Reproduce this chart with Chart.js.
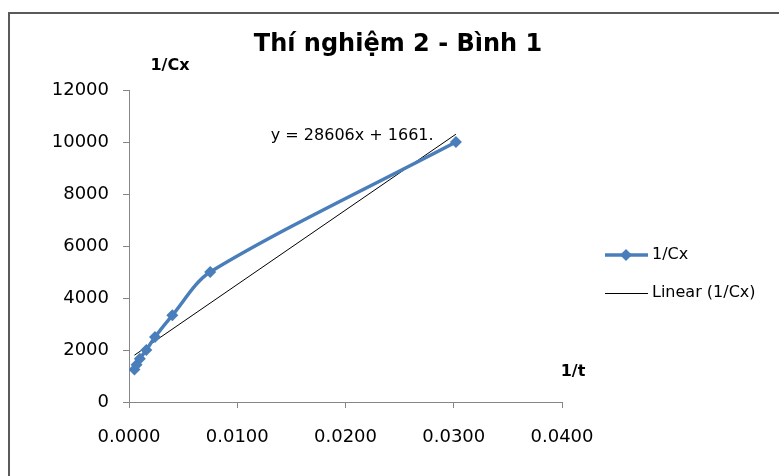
<!DOCTYPE html>
<html>
<head>
<meta charset="utf-8">
<script src="https://cdn.jsdelivr.net/npm/chart.js@4/dist/chart.umd.min.js"></script>
<style>
  html, body { margin: 0; padding: 0; background: #fff; overflow: hidden; }
  #wrap { position: relative; width: 779px; height: 476px; overflow: hidden; }
  #khung { position: absolute; left: 8px; top: 12px; width: 800px; height: 500px;
           border-left: 2px solid #5a5a5a; border-top: 2px solid #5a5a5a; }
  canvas { position: absolute; left: 0; top: 0; }
</style>
</head>
<body>
<div id="wrap">
  <div id="khung"></div>
  <canvas id="bieuDo" width="779" height="476"></canvas>
</div>
<script>
// Dữ liệu
const motTrenT = [0.0005, 0.0007, 0.0010, 0.0016, 0.0024, 0.0040, 0.0075, 0.0302];
const motTrenCx = [1250, 1429, 1667, 2000, 2500, 3333, 5000, 10000];

// Đường xu hướng (hai đầu mút)
const xuHuongX = [0.0005, 0.0302];
const xuHuongY = [1800, 10300];

const nhanX = [0, 0.01, 0.02, 0.03, 0.04];
const nhanY = [0, 2000, 4000, 6000, 8000, 10000, 12000];

const tieuDe = "Thí nghiệm 2 - Bình 1";
const tenTrucY = "1/Cx";
const tenTrucX = "1/t";
const phuongTrinh = "y = 28606x + 1661.";
const tenChuGiai = ["1/Cx", "Linear (1/Cx)"];

const mauXanh = "#4a7ebb";
const mauTruc = "#868686";
const phongChu = "'DejaVu Sans', sans-serif";

// Vẽ tiêu đề, tên trục, phương trình và chú giải
const chuThich = {
    id: "chuThich",
    afterDraw(chart) {
        const ctx = chart.ctx;
        const sx = chart.scales.x, sy = chart.scales.y;
        ctx.save();
        ctx.fillStyle = "#000";
        ctx.textBaseline = "middle";

        ctx.font = "bold 24px " + phongChu;
        ctx.textAlign = "center";
        ctx.fillText(tieuDe, 398, 45);

        ctx.font = "bold 16px " + phongChu;
        ctx.fillText(tenTrucY, 170, 66);
        ctx.fillText(tenTrucX, 573, 372);

        ctx.font = "16px " + phongChu;
        ctx.textAlign = "left";
        ctx.fillText(phuongTrinh, sx.getPixelForValue(0.0131), sy.getPixelForValue(10250));

        // chú giải
        const x0 = 605, x1 = 648;
        const yA = 255, yB = 293;
        ctx.strokeStyle = mauXanh;
        ctx.lineWidth = 3.5;
        ctx.beginPath(); ctx.moveTo(x0, yA); ctx.lineTo(x1, yA); ctx.stroke();
        ctx.fillStyle = mauXanh;
        ctx.beginPath();
        ctx.moveTo(626, yA - 6); ctx.lineTo(632, yA); ctx.lineTo(626, yA + 6); ctx.lineTo(620, yA);
        ctx.closePath(); ctx.fill();
        ctx.strokeStyle = "#000";
        ctx.lineWidth = 1;
        ctx.beginPath(); ctx.moveTo(x0, yB + 0.5); ctx.lineTo(x1, yB + 0.5); ctx.stroke();

        ctx.fillStyle = "#000";
        ctx.font = "16px " + phongChu;
        ctx.fillText(tenChuGiai[0], 652, yA);
        ctx.fillText(tenChuGiai[1], 652, yB);
        ctx.restore();
    }
};

new Chart(document.getElementById("bieuDo").getContext("2d"), {
    type: "scatter",
    data: {
        datasets: [
            {
                label: tenChuGiai[0],
                data: motTrenT.map((x, i) => ({ x: x, y: motTrenCx[i] })),
                showLine: true,
                borderColor: mauXanh,
                backgroundColor: mauXanh,
                borderWidth: 3.5,
                tension: 0.3,
                pointStyle: "rectRot",
                pointRadius: 6,
                pointBorderWidth: 0
            },
            {
                label: tenChuGiai[1],
                data: xuHuongX.map((x, i) => ({ x: x, y: xuHuongY[i] })),
                showLine: true,
                borderColor: "#000",
                borderWidth: 1,
                pointRadius: 0
            }
        ]
    },
    options: {
        responsive: false,
        animation: false,
        layout: { padding: { left: 29, right: 217, top: 90, bottom: 24 } },
        plugins: {
            legend: { display: false },
            title: { display: false },
            tooltip: { enabled: false }
        },
        scales: {
            x: {
                type: "linear",
                min: nhanX[0],
                max: nhanX[nhanX.length - 1],
                afterBuildTicks: s => { s.ticks = nhanX.map(v => ({ value: v })); },
                afterFit: s => { s.height = 50; },
                border: { color: mauTruc, width: 1 },
                grid: { drawOnChartArea: false, drawTicks: true, tickLength: 6, color: mauTruc },
                ticks: {
                    color: "#000",
                    padding: 19,
                    maxRotation: 0,
                    font: { family: phongChu, size: 18 },
                    callback: v => Number(v).toFixed(4)
                }
            },
            y: {
                min: nhanY[0],
                max: nhanY[nhanY.length - 1],
                afterBuildTicks: s => { s.ticks = nhanY.map(v => ({ value: v })); },
                afterFit: s => { s.width = 100; },
                border: { color: mauTruc, width: 1 },
                grid: { drawOnChartArea: false, drawTicks: true, tickLength: 6, color: mauTruc },
                ticks: {
                    color: "#000",
                    padding: 14,
                    font: { family: phongChu, size: 18 },
                    callback: v => String(v)
                }
            }
        }
    },
    plugins: [chuThich]
});
</script>
</body>
</html>
